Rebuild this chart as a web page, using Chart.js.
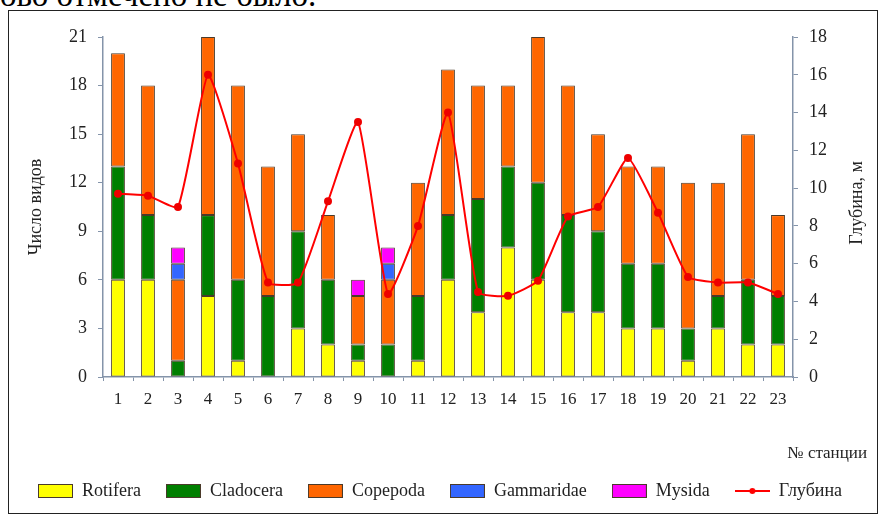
<!DOCTYPE html>
<html>
  <head>
    <meta charset="utf-8">
    <title>Число видов по станциям</title>
    <script src="https://cdn.jsdelivr.net/npm/chart.js@4.4.1/dist/chart.umd.min.js"></script>
    <style>
      body { margin: 0; background: #fff; width: 880px; height: 518px; overflow: hidden; position: relative; }
      #topline { position: absolute; left: 0; top: -23px; font: 33px "Liberation Serif", serif; color: #000; white-space: nowrap; }
      #frame { position: absolute; left: 8px; top: 10px; width: 868px; height: 502px; border: 1px solid #222; background: #fff; }
      #myChart { position: absolute; left: 0; top: 0; }
    </style>
  </head>
  <body>
    <div id="topline">ово отмечено не было.</div>
    <div id="frame"></div>
    <canvas id="myChart" width="880" height="518"></canvas>

    <script>
      // station numbers
      var stations = ["1","2","3","4","5","6","7","8","9","10","11","12","13","14","15","16","17","18","19","20","21","22","23"];

      // number of species by group
      var rotifera   = [6, 6, 0, 5, 1, 0, 3, 2, 1, 0, 1, 6, 4, 8, 6, 4, 4, 3, 3, 1, 3, 2, 2];
      var cladocera  = [7, 4, 1, 5, 5, 5, 6, 4, 1, 2, 4, 4, 7, 5, 6, 6, 5, 4, 4, 2, 2, 4, 3];
      var copepoda   = [7, 8, 5, 11, 12, 8, 6, 4, 3, 4, 7, 9, 7, 5, 9, 8, 6, 6, 6, 9, 7, 9, 5];
      var gammaridae = [0, 0, 1, 0, 0, 0, 0, 0, 0, 1, 0, 0, 0, 0, 0, 0, 0, 0, 0, 0, 0, 0, 0];
      var mysida     = [0, 0, 1, 0, 0, 0, 0, 0, 1, 1, 0, 0, 0, 0, 0, 0, 0, 0, 0, 0, 0, 0, 0];

      // depth, m
      var depth = [9.7, 9.6, 9.0, 16.0, 11.3, 5.0, 5.0, 9.3, 13.5, 4.4, 8.0, 14.0, 4.5, 4.3, 5.1, 8.5, 9.0, 11.6, 8.7, 5.3, 5.0, 5.0, 4.4];

      var speciesTicks = [0, 3, 6, 9, 12, 15, 18, 21];
      var depthTicks = [0, 2, 4, 6, 8, 10, 12, 14, 16, 18];

      var serif = "'Liberation Serif', 'Times New Roman', serif";
      var axisColor = "#8494aa";
      var barBorder = "#4a3a2a";

      function noZero(arr) {
        return arr.map(v => v === 0 ? null : v);
      }

      function makeIcon(fill, isLine) {
        var c = document.createElement("canvas");
        c.width = 35; c.height = 14;
        var g = c.getContext("2d");
        if (isLine) {
          g.strokeStyle = fill; g.lineWidth = 2;
          g.beginPath(); g.moveTo(0, 7); g.lineTo(35, 7); g.stroke();
          g.fillStyle = fill;
          g.beginPath(); g.arc(17.5, 7, 3, 0, Math.PI * 2); g.fill();
        } else {
          g.fillStyle = fill; g.fillRect(1, 1, 33, 12);
          g.strokeStyle = barBorder; g.lineWidth = 1; g.strokeRect(0.5, 0.5, 34, 13);
        }
        return c;
      }

      function barSet(label, data, colour) {
        return {
          type: "bar",
          label: label,
          data: noZero(data),
          backgroundColor: colour,
          borderColor: barBorder,
          borderWidth: 1,
          borderSkipped: false,
          yAxisID: "y",
          stack: "s",
          order: 1,
          barPercentage: 0.92,
          categoryPercentage: 0.5,
          icon: makeIcon(colour, false)
        };
      }

      // right axis title and x title are drawn by hand so they can sit where the original has them
      var extraTitles = {
        id: "extraTitles",
        afterDraw(chart) {
          var ctx = chart.ctx;
          ctx.save();
          ctx.fillStyle = "#222";
          ctx.font = "18px " + serif;
          ctx.textAlign = "center";
          ctx.textBaseline = "middle";
          ctx.translate(857, 203);
          ctx.rotate(-Math.PI / 2);
          ctx.fillText("Глубина, м", 0, 0);
          ctx.restore();

          ctx.save();
          ctx.fillStyle = "#222";
          ctx.font = "17px " + serif;
          ctx.textAlign = "right";
          ctx.textBaseline = "middle";
          ctx.fillText("№ станции", 867, 454);
          ctx.restore();
        }
      };

      var ctx = document.getElementById("myChart").getContext("2d");
      var chart = new Chart(ctx, {
        data: {
          labels: stations,
          datasets: [
            barSet("Rotifera", rotifera, "#ffff00"),
            barSet("Cladocera", cladocera, "#007f00"),
            barSet("Copepoda", copepoda, "#ff6600"),
            barSet("Gammaridae", gammaridae, "#3366ff"),
            barSet("Mysida", mysida, "#ff00ff"),
            {
              type: "line",
              label: "Глубина",
              data: depth,
              borderColor: "#ff0000",
              backgroundColor: "#ff0000",
              borderWidth: 2,
              pointRadius: 3,
              pointBackgroundColor: "#ee0000",
              pointBorderColor: "#ee0000",
              tension: 0.15,
              yAxisID: "y1",
              order: 0,
              icon: makeIcon("#ff0000", true)
            }
          ]
        },
        options: {
          responsive: false,
          animation: false,
          layout: { padding: { top: 37, left: 0, right: 0, bottom: 8 } },
          plugins: {
            tooltip: { enabled: false },
            legend: {
              position: "bottom",
              labels: {
                usePointStyle: true,
                pointStyleWidth: 35,
                boxHeight: 14,
                padding: 25,
                color: "#222",
                font: { family: serif, size: 18 },
                generateLabels(c) {
                  return c.data.datasets.map((ds, i) => ({
                    text: ds.label,
                    pointStyle: ds.icon,
                    datasetIndex: i,
                    fontColor: "#222",
                    fillStyle: "transparent",
                    strokeStyle: "transparent",
                    lineWidth: 0,
                    hidden: false
                  }));
                }
              }
            }
          },
          scales: {
            x: {
              stacked: true,
              afterFit(s) { s.height = 80; },
              grid: { drawOnChartArea: false, color: axisColor, tickLength: 4, offset: true },
              border: { color: axisColor, width: 1.5 },
              ticks: { color: "#222", padding: 8, font: { family: serif, size: 17 }, maxRotation: 0, autoSkip: false }
            },
            y: {
              stacked: true,
              position: "left",
              min: 0,
              max: 21,
              afterFit(s) { s.width = 103; },
              afterBuildTicks(s) { s.ticks = speciesTicks.map(v => ({ value: v })); },
              grid: { drawOnChartArea: false, color: axisColor, tickLength: 5 },
              border: { color: axisColor, width: 1.5 },
              ticks: { color: "#222", padding: 11, font: { family: serif, size: 18 } },
              title: {
                display: true,
                text: "Число видов",
                color: "#222",
                font: { family: serif, size: 18 },
                padding: { top: 25, bottom: 0 }
              }
            },
            y1: {
              position: "right",
              min: 0,
              max: 18,
              afterFit(s) { s.width = 87; },
              afterBuildTicks(s) { s.ticks = depthTicks.map(v => ({ value: v })); },
              grid: { drawOnChartArea: false, color: axisColor, tickLength: 5 },
              border: { color: axisColor, width: 1.5 },
              ticks: { color: "#222", padding: 11, font: { family: serif, size: 18 } }
            }
          }
        },
        plugins: [extraTitles]
      });
    </script>
  </body>
</html>
